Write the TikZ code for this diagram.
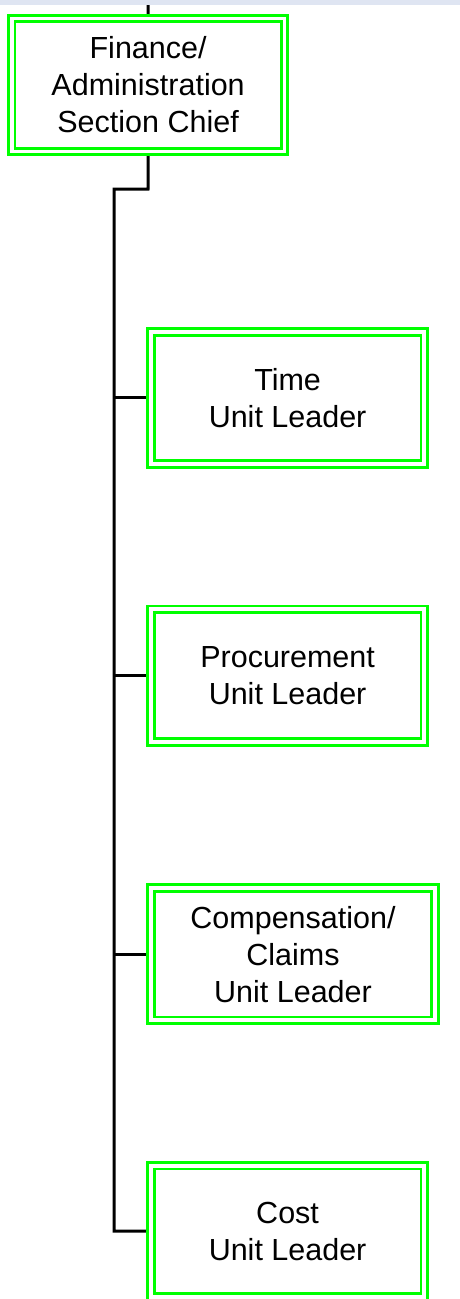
\documentclass[tikz,border=0pt]{standalone}
\usepackage{fontspec}
\setmainfont{Liberation Sans}
\usetikzlibrary{backgrounds}
\definecolor{boxgreen}{RGB}{0,255,0}
\definecolor{bandblue}{RGB}{223,229,242}
\tikzset{
  unitbox/.style={draw=boxgreen, line width=2.8pt, double=white, double distance=3.8pt,
    inner sep=0pt, align=center, font=\fontsize{30.5}{37}\selectfont},
  link/.style={draw=black, line width=3pt}
}
\begin{document}
\begin{tikzpicture}[x=1pt, y=-1pt]
\useasboundingbox (0,0) rectangle (460,1299);
\fill[bandblue] (0,0) rectangle (460,4.7);
\clip (0,0) rectangle (460,1299);

\coordinate (up) at (148,4.7);
\node[unitbox, minimum width=272.8pt, minimum height=133pt] (chief) at (148.1,85) {Finance/\\Administration\\Section Chief};
\node[unitbox, minimum width=273.2pt, minimum height=131.8pt] (time) at (287.6,397.9) {Time\\Unit Leader};
\node[unitbox, minimum width=273.2pt, minimum height=132.8pt] (proc) at (287.6,675.6) {Procurement\\Unit Leader};
\node[unitbox, minimum width=284pt, minimum height=132.5pt] (comp) at (293,954.1) {Compensation/\\Claims\\Unit Leader};
\node[unitbox, minimum width=273.2pt, minimum height=131pt] (cost) at (287.6,1231.1) {Cost\\Unit Leader};

\coordinate (bend) at (148,189);
\coordinate (spine) at (114,189);

\begin{pgfonlayer}{background}
\draw[link] (up) -- (chief.north);
\draw[link] (chief.south) -- (bend) -- (spine) |- (cost.west);
\draw[link] (spine |- time.west) -- (time.west);
\draw[link] (spine |- proc.west) -- (proc.west);
\draw[link] (spine |- comp.west) -- (comp.west);
\end{pgfonlayer}
\end{tikzpicture}
\end{document}
